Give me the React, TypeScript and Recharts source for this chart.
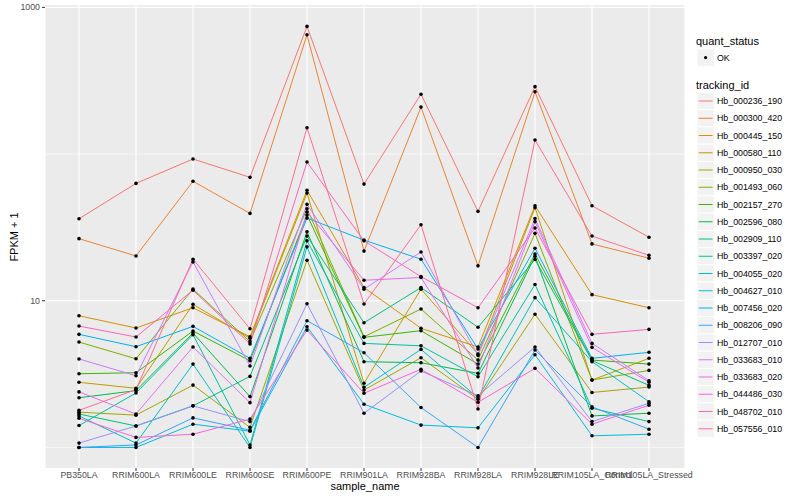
import React from "react";
import {
  LineChart,
  Line,
  XAxis,
  YAxis,
  CartesianGrid,
  ReferenceLine,
} from "recharts";

const FONT = '"Liberation Sans", Arial, Helvetica, sans-serif';

const samples = [
  "PB350LA",
  "RRIM600LA",
  "RRIM600LE",
  "RRIM600SE",
  "RRIM600PE",
  "RRIM901LA",
  "RRIM928BA",
  "RRIM928LA",
  "RRIM928LE",
  "RRIM105LA_Control",
  "RRIM105LA_Stressed",
];

// FPKM + 1, one value per sample
const hb000236_190 = [36.2, 63.1, 92.5, 69.4, 742, 62.4, 256, 40.7, 288, 44.4, 27.1];
const hb000300_420 = [26.5, 20.2, 65.2, 39.4, 650, 21.8, 209, 17.3, 266, 24.4, 19.5];
const hb000445_150 = [7.9, 6.52, 8.96, 5.68, 56.6, 12.3, 6.49, 4.84, 44.4, 11.0, 8.96];
const hb000580_110 = [2.78, 2.53, 9.45, 5.54, 54.2, 2.74, 12.0, 4.33, 43.1, 2.88, 4.05];
const hb000950_030 = [1.74, 1.66, 2.66, 1.37, 18.9, 2.46, 4.09, 2.13, 8.08, 2.37, 2.58];
const hb001493_060 = [5.23, 4.02, 12.0, 5.26, 42.4, 5.68, 8.78, 3.94, 28.8, 2.88, 3.35];
const hb002157_270 = [3.18, 3.23, 6.22, 3.9, 38.4, 5.63, 6.25, 3.7, 20.8, 3.94, 3.7];
const hb002596_080 = [2.18, 2.44, 6.02, 2.22, 29.5, 3.84, 3.78, 3.2, 20.1, 1.64, 1.71];
const hb002909_110 = [1.69, 1.4, 1.92, 3.05, 27.6, 7.08, 12.3, 6.59, 19.1, 3.91, 2.65];
const hb003397_020 = [1.41, 2.35, 5.87, 1.04, 25.6, 5.12, 4.93, 3.03, 12.9, 1.85, 1.5];
const hb004055_020 = [1.64, 1.07, 3.7, 1.0, 23.3, 2.57, 4.66, 2.18, 10.5, 3.84, 2.05];
const hb004627_010 = [1.0, 1.0, 1.44, 1.29, 6.65, 1.97, 1.42, 1.36, 4.28, 1.2, 1.23];
const hb007456_020 = [5.9, 4.86, 6.69, 4.05, 36.6, 25.9, 19.2, 4.69, 22.8, 4.05, 4.45];
const hb008206_090 = [1.0, 1.04, 1.59, 1.31, 7.31, 4.42, 1.87, 1.0, 4.61, 1.89, 1.33];
const hb012707_010 = [1.07, 1.4, 1.92, 1.5, 9.54, 1.71, 3.32, 2.25, 4.84, 1.5, 2.0];
const hb033683_010 = [4.01, 3.08, 18.4, 3.59, 45.4, 12.0, 21.5, 4.24, 36.3, 5.12, 2.85];
const hb033683_020 = [2.39, 1.69, 4.84, 2.02, 40.2, 13.8, 14.4, 3.48, 34.6, 4.81, 2.78];
const hb044486_030 = [1.58, 1.17, 1.23, 1.56, 6.31, 2.34, 3.41, 2.03, 3.46, 1.44, 1.94];
const hb048702_010 = [6.72, 5.66, 11.8, 5.07, 88.2, 25.6, 14.6, 8.96, 31.3, 5.9, 6.38];
const hb057556_010 = [1.79, 2.48, 19.2, 6.44, 151, 9.5, 33.0, 1.83, 124.6, 27.6, 20.4];

const yTicks = [10, 1000];

const series = [
  { id: "Hb_000236_190", values: hb000236_190, color: "#F8766D" },
  { id: "Hb_000300_420", values: hb000300_420, color: "#EA8331" },
  { id: "Hb_000445_150", values: hb000445_150, color: "#D89000" },
  { id: "Hb_000580_110", values: hb000580_110, color: "#C09B00" },
  { id: "Hb_000950_030", values: hb000950_030, color: "#A3A500" },
  { id: "Hb_001493_060", values: hb001493_060, color: "#7CAE00" },
  { id: "Hb_002157_270", values: hb002157_270, color: "#39B600" },
  { id: "Hb_002596_080", values: hb002596_080, color: "#00BB4E" },
  { id: "Hb_002909_110", values: hb002909_110, color: "#00BF7D" },
  { id: "Hb_003397_020", values: hb003397_020, color: "#00C1A3" },
  { id: "Hb_004055_020", values: hb004055_020, color: "#00BFC4" },
  { id: "Hb_004627_010", values: hb004627_010, color: "#00BAE0" },
  { id: "Hb_007456_020", values: hb007456_020, color: "#00B0F6" },
  { id: "Hb_008206_090", values: hb008206_090, color: "#35A2FF" },
  { id: "Hb_012707_010", values: hb012707_010, color: "#9590FF" },
  { id: "Hb_033683_010", values: hb033683_010, color: "#C77CFF" },
  { id: "Hb_033683_020", values: hb033683_020, color: "#E76BF3" },
  { id: "Hb_044486_030", values: hb044486_030, color: "#FA62DB" },
  { id: "Hb_048702_010", values: hb048702_010, color: "#FF62BC" },
  { id: "Hb_057556_010", values: hb057556_010, color: "#FF6C91" },
];

const data = samples.map((sample, i) => {
  const row: Record<string, string | number> = { sample };
  series.forEach((s) => {
    row[s.id] = s.values[i];
  });
  return row;
});

function LegendOverlay() {
  const keyX = 697;
  const startY = 101;
  const step = 17.25;
  return (
    <svg
      width={800}
      height={500}
      style={{ position: "absolute", left: 0, top: 0, pointerEvents: "none" }}
      fontFamily={FONT}
    >
      <text x={365} y={486} fontSize={11} textAnchor="middle" dominantBaseline="central" fill="#000">
        sample_name
      </text>
      <text
        x={14}
        y={237}
        fontSize={11}
        textAnchor="middle"
        dominantBaseline="central"
        fill="#000"
        transform="rotate(-90 14 237)"
      >
        FPKM + 1
      </text>

      <text x={696} y={41} fontSize={11} dominantBaseline="central" fill="#000">
        quant_status
      </text>
      <rect x={keyX} y={49} width={17.3} height={17.3} fill="#F2F2F2" stroke="#fff" />
      <circle cx={keyX + 8.6} cy={57.6} r={1.6} fill="#000" />
      <text x={717} y={57.6} fontSize={8.8} dominantBaseline="central" fill="#000">
        OK
      </text>

      <text x={696} y={84.5} fontSize={11} dominantBaseline="central" fill="#000">
        tracking_id
      </text>
      {series.map((s, i) => {
        const cy = startY + i * step;
        return (
          <g key={s.id}>
            <rect x={keyX} y={cy - 8.6} width={17.3} height={17.3} fill="#F2F2F2" stroke="#fff" />
            <line x1={keyX + 1.7} x2={keyX + 15.6} y1={cy} y2={cy} stroke={s.color} strokeWidth={1} />
            <text x={717} y={cy} fontSize={8.8} dominantBaseline="central" fill="#000">
              {s.id}
            </text>
          </g>
        );
      })}
    </svg>
  );
}

export default function App() {
  return (
    <div style={{ position: "absolute", left: 0, top: 0, width: 800, height: 500, background: "#fff" }}>
      <LineChart
        width={800}
        height={500}
        data={data}
        margin={{ top: 5, right: 115, bottom: 0, left: 0 }}
      >
        <CartesianGrid fill="#EBEBEB" stroke="#fff" strokeWidth={1.1} horizontal={false} />
        <ReferenceLine y={1} stroke="#fff" strokeWidth={0.6} />
        <ReferenceLine y={100} stroke="#fff" strokeWidth={0.6} />
        <ReferenceLine y={10} stroke="#fff" strokeWidth={1.1} />
        <ReferenceLine y={1000} stroke="#fff" strokeWidth={1.1} />
        <XAxis
          dataKey="sample"
          type="category"
          scale="point"
          interval={0}
          height={32}
          padding={{ left: 34, right: 36 }}
          axisLine={false}
          tickSize={3}
          tickMargin={1}
          tickLine={{ stroke: "#333" }}
          tick={{ fontSize: 8.8, fill: "#4D4D4D", fontFamily: FONT }}
        />
        <YAxis
          type="number"
          scale="log"
          domain={[0.724, 1038]}
          allowDataOverflow
          ticks={yTicks}
          width={45}
          axisLine={false}
          tickSize={3}
          tickMargin={2}
          tickLine={{ stroke: "#333" }}
          tick={{ fontSize: 8.8, fill: "#4D4D4D", fontFamily: FONT }}
        />
        {series.map((s) => (
          <Line
            key={s.id}
            dataKey={s.id}
            type="linear"
            stroke={s.color}
            strokeWidth={1}
            dot={false}
            activeDot={false}
            isAnimationActive={false}
          />
        ))}
        {series.map((s) => (
          <Line
            key={s.id + "-pt"}
            dataKey={s.id}
            type="linear"
            stroke="none"
            dot={{ r: 1.8, fill: "#000", stroke: "none" }}
            activeDot={false}
            legendType="none"
            isAnimationActive={false}
          />
        ))}
      </LineChart>
      <LegendOverlay />
    </div>
  );
}
